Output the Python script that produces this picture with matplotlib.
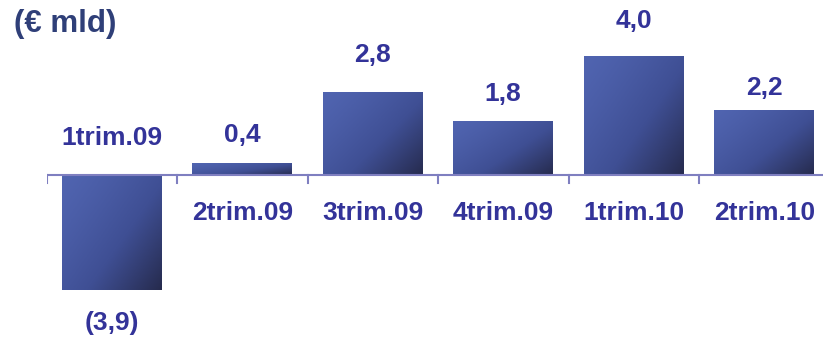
import numpy as np
import matplotlib
matplotlib.use("Agg")
import matplotlib.pyplot as plt
from matplotlib.colors import LinearSegmentedColormap

categories = ["1trim.09", "2trim.09", "3trim.09", "4trim.09", "1trim.10", "2trim.10"]
values = [-3.9, 0.4, 2.8, 1.8, 4.0, 2.2]
value_labels = ["(3,9)", "0,4", "2,8", "1,8", "4,0", "2,2"]
unit_label = "(€ mld)"

# label offsets (pixels) – styling only
val_offsets = [-33, 28, 37, 28, 36, 22]

plt.rcParams['font.family'] = ['Liberation Sans', 'DejaVu Sans']
fig = plt.figure(figsize=(8.23, 3.37), dpi=100)
ax = fig.add_axes([46.5 / 823, 0, (823 - 46.5) / 823, 1])
ax.axis('off')

cmap = LinearSegmentedColormap.from_list("g", ["#5064b0", "#3f4f94", "#262b4e"])
nx, ny = 60, 60
gx, gy = np.meshgrid(np.linspace(0, 1, nx), np.linspace(0, 1, ny))
grad = np.clip(0.55 * gx + 0.45 * gy, 0, 1) ** 1.3

width = 100 / 130.5
txt_color = "#333399"
for i, v in enumerate(values):
    x0, x1 = i - width / 2, i + width / 2
    y0, y1 = min(0, v), max(0, v)
    ax.imshow(grad, cmap=cmap, extent=[x0, x1, y0, y1], origin='upper',
              aspect='auto', interpolation='bilinear', zorder=2)

ax.set_xlim(-0.5, -0.5 + (823 - 46.5) / 130.5)
ax.set_ylim(-(337 - 175) / 29.5, 175 / 29.5)

# axis line and ticks
axis_color = "#7f7fc0"
ax.axhline(0, color=axis_color, lw=1.5, zorder=3)
tick_len = 8 / 29.5
for i in range(len(categories) + 1):
    ax.plot([i - 0.5, i - 0.5], [0, -tick_len], color=axis_color, lw=1.5, zorder=3)

for i, (v, lab, off) in enumerate(zip(values, value_labels, val_offsets)):
    ax.annotate(lab, (i, v), xytext=(0, off), textcoords='offset pixels',
                ha='center', va='center', fontsize=19, fontweight='bold',
                color=txt_color, zorder=4)
    if v < 0:
        ax.annotate(categories[i], (i, 0), xytext=(0, 37), textcoords='offset pixels',
                    ha='center', va='center', fontsize=19, fontweight='bold',
                    color=txt_color, zorder=4)
    else:
        ax.annotate(categories[i], (i, 0), xytext=(0, -38), textcoords='offset pixels',
                    ha='center', va='center', fontsize=19, fontweight='bold',
                    color=txt_color, zorder=4)

fig.text(14 / 823, 1 - 24 / 337, unit_label, ha='left', va='center',
         fontsize=22.5, fontweight='bold', color="#2f3f78")

fig.savefig("out.png", dpi=100)
